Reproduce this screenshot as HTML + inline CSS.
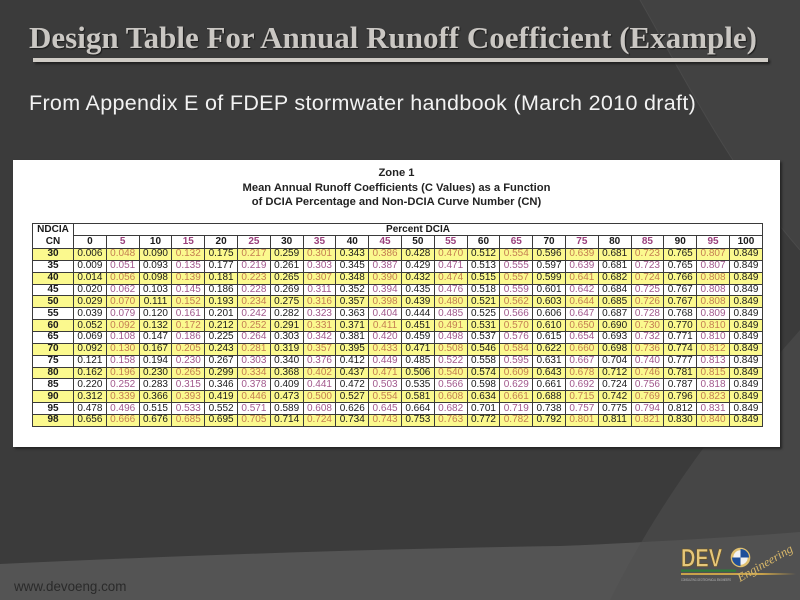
<!DOCTYPE html>
<html><head><meta charset="utf-8">
<style>
html,body{margin:0;padding:0;}
body{width:800px;height:600px;position:relative;overflow:hidden;background:#3b3b3b;font-family:"Liberation Sans",Arial,sans-serif;}
.abs{position:absolute;}
#title{left:29px;top:22px;font-family:"Liberation Serif","Times New Roman",serif;font-weight:bold;font-size:31px;line-height:31px;color:#cac7c3;white-space:nowrap;text-shadow:1px 1px 1px #1c1c1c;}
#bar{left:33px;top:58px;width:735px;height:4px;background:#d0ccc6;box-shadow:2px 2px 2px #202020;}
#sub{left:29px;top:93px;font-size:21.5px;line-height:21.5px;color:#f2f2f2;white-space:nowrap;letter-spacing:0.32px;}
#box{left:13px;top:160px;width:767px;height:287px;background:#fff;box-shadow:2px 2px 2px #262626;}
.cap{left:13px;width:767px;text-align:center;font-weight:bold;font-size:11.2px;line-height:11.2px;color:#222;white-space:nowrap;}
#tbl{position:absolute;left:32px;top:223px;width:731px;border-collapse:collapse;table-layout:fixed;font-size:10px;line-height:10px;}
#tbl td,#tbl th{border:1px solid #3a3a3a;padding:0;text-align:center;overflow:hidden;white-space:nowrap;color:#1a1a1a;}
#tbl th{font-weight:bold;}
#tbl tr.r1{height:12px;}
#tbl tr.h{height:13px;}
#tbl tr.h th:nth-child(2n){color:#9a407c;}
#tbl tr.d{height:11.87px;}
#tbl tr.d td:first-child{font-weight:bold;}
#tbl tr.d td:nth-child(2n+3){color:#a2588c;}
#tbl tr.y td{background:#fbf98e;}
#tbl tr.y td:nth-child(2n+3){color:#c47e52;}
#foot{left:14px;top:580px;font-size:13.4px;line-height:14px;color:#2a2a2a;white-space:nowrap;}
</style></head><body>
<svg class="abs" style="left:0;top:0" width="800" height="600">
  <rect width="800" height="600" fill="#3b3b3b"/>
  <path d="M640,0 C680,70 730,170 800,250 L800,0 Z" fill="#424242"/>
  <path d="M640,0 C680,70 730,170 800,250" stroke="#4a4a4a" stroke-width="1" fill="none"/>
  <path d="M800,330 C720,420 660,500 610,600 L800,600 Z" fill="#424242"/>
  <path d="M0,564 Q300,550 560,546 Q700,540 800,532 L800,600 L0,600 Z" fill="#545454"/>
  <path d="M800,330 C720,420 660,500 610,600 L800,600 Z" fill="#4c4c4c" opacity="0.35"/>
</svg>
<div id="title" class="abs">Design Table For Annual Runoff Coefficient (Example)</div>
<div id="bar" class="abs"></div>
<div id="sub" class="abs">From Appendix E of FDEP stormwater handbook (March 2010 draft)</div>
<div id="box" class="abs"></div>
<div class="abs cap" style="top:168px;">Zone 1</div>
<div class="abs cap" style="top:183px;">Mean Annual Runoff Coefficients (C Values) as a Function</div>
<div class="abs cap" style="top:197px;">of DCIA Percentage and Non-DCIA Curve Number (CN)</div>
<table id="tbl">
<colgroup><col style="width:41px"><col span="21"></colgroup>
<tr class="r1"><th rowspan="2" style="line-height:12px;">NDCIA<br>CN</th><th colspan="21">Percent DCIA</th></tr>
<tr class="h"><th>0</th><th>5</th><th>10</th><th>15</th><th>20</th><th>25</th><th>30</th><th>35</th><th>40</th><th>45</th><th>50</th><th>55</th><th>60</th><th>65</th><th>70</th><th>75</th><th>80</th><th>85</th><th>90</th><th>95</th><th>100</th></tr>
<tr class="d y"><td>30</td><td>0.006</td><td>0.048</td><td>0.090</td><td>0.132</td><td>0.175</td><td>0.217</td><td>0.259</td><td>0.301</td><td>0.343</td><td>0.386</td><td>0.428</td><td>0.470</td><td>0.512</td><td>0.554</td><td>0.596</td><td>0.639</td><td>0.681</td><td>0.723</td><td>0.765</td><td>0.807</td><td>0.849</td></tr>
<tr class="d"><td>35</td><td>0.009</td><td>0.051</td><td>0.093</td><td>0.135</td><td>0.177</td><td>0.219</td><td>0.261</td><td>0.303</td><td>0.345</td><td>0.387</td><td>0.429</td><td>0.471</td><td>0.513</td><td>0.555</td><td>0.597</td><td>0.639</td><td>0.681</td><td>0.723</td><td>0.765</td><td>0.807</td><td>0.849</td></tr>
<tr class="d y"><td>40</td><td>0.014</td><td>0.056</td><td>0.098</td><td>0.139</td><td>0.181</td><td>0.223</td><td>0.265</td><td>0.307</td><td>0.348</td><td>0.390</td><td>0.432</td><td>0.474</td><td>0.515</td><td>0.557</td><td>0.599</td><td>0.641</td><td>0.682</td><td>0.724</td><td>0.766</td><td>0.808</td><td>0.849</td></tr>
<tr class="d"><td>45</td><td>0.020</td><td>0.062</td><td>0.103</td><td>0.145</td><td>0.186</td><td>0.228</td><td>0.269</td><td>0.311</td><td>0.352</td><td>0.394</td><td>0.435</td><td>0.476</td><td>0.518</td><td>0.559</td><td>0.601</td><td>0.642</td><td>0.684</td><td>0.725</td><td>0.767</td><td>0.808</td><td>0.849</td></tr>
<tr class="d y"><td>50</td><td>0.029</td><td>0.070</td><td>0.111</td><td>0.152</td><td>0.193</td><td>0.234</td><td>0.275</td><td>0.316</td><td>0.357</td><td>0.398</td><td>0.439</td><td>0.480</td><td>0.521</td><td>0.562</td><td>0.603</td><td>0.644</td><td>0.685</td><td>0.726</td><td>0.767</td><td>0.808</td><td>0.849</td></tr>
<tr class="d"><td>55</td><td>0.039</td><td>0.079</td><td>0.120</td><td>0.161</td><td>0.201</td><td>0.242</td><td>0.282</td><td>0.323</td><td>0.363</td><td>0.404</td><td>0.444</td><td>0.485</td><td>0.525</td><td>0.566</td><td>0.606</td><td>0.647</td><td>0.687</td><td>0.728</td><td>0.768</td><td>0.809</td><td>0.849</td></tr>
<tr class="d y"><td>60</td><td>0.052</td><td>0.092</td><td>0.132</td><td>0.172</td><td>0.212</td><td>0.252</td><td>0.291</td><td>0.331</td><td>0.371</td><td>0.411</td><td>0.451</td><td>0.491</td><td>0.531</td><td>0.570</td><td>0.610</td><td>0.650</td><td>0.690</td><td>0.730</td><td>0.770</td><td>0.810</td><td>0.849</td></tr>
<tr class="d"><td>65</td><td>0.069</td><td>0.108</td><td>0.147</td><td>0.186</td><td>0.225</td><td>0.264</td><td>0.303</td><td>0.342</td><td>0.381</td><td>0.420</td><td>0.459</td><td>0.498</td><td>0.537</td><td>0.576</td><td>0.615</td><td>0.654</td><td>0.693</td><td>0.732</td><td>0.771</td><td>0.810</td><td>0.849</td></tr>
<tr class="d y"><td>70</td><td>0.092</td><td>0.130</td><td>0.167</td><td>0.205</td><td>0.243</td><td>0.281</td><td>0.319</td><td>0.357</td><td>0.395</td><td>0.433</td><td>0.471</td><td>0.508</td><td>0.546</td><td>0.584</td><td>0.622</td><td>0.660</td><td>0.698</td><td>0.736</td><td>0.774</td><td>0.812</td><td>0.849</td></tr>
<tr class="d"><td>75</td><td>0.121</td><td>0.158</td><td>0.194</td><td>0.230</td><td>0.267</td><td>0.303</td><td>0.340</td><td>0.376</td><td>0.412</td><td>0.449</td><td>0.485</td><td>0.522</td><td>0.558</td><td>0.595</td><td>0.631</td><td>0.667</td><td>0.704</td><td>0.740</td><td>0.777</td><td>0.813</td><td>0.849</td></tr>
<tr class="d y"><td>80</td><td>0.162</td><td>0.196</td><td>0.230</td><td>0.265</td><td>0.299</td><td>0.334</td><td>0.368</td><td>0.402</td><td>0.437</td><td>0.471</td><td>0.506</td><td>0.540</td><td>0.574</td><td>0.609</td><td>0.643</td><td>0.678</td><td>0.712</td><td>0.746</td><td>0.781</td><td>0.815</td><td>0.849</td></tr>
<tr class="d"><td>85</td><td>0.220</td><td>0.252</td><td>0.283</td><td>0.315</td><td>0.346</td><td>0.378</td><td>0.409</td><td>0.441</td><td>0.472</td><td>0.503</td><td>0.535</td><td>0.566</td><td>0.598</td><td>0.629</td><td>0.661</td><td>0.692</td><td>0.724</td><td>0.756</td><td>0.787</td><td>0.818</td><td>0.849</td></tr>
<tr class="d y"><td>90</td><td>0.312</td><td>0.339</td><td>0.366</td><td>0.393</td><td>0.419</td><td>0.446</td><td>0.473</td><td>0.500</td><td>0.527</td><td>0.554</td><td>0.581</td><td>0.608</td><td>0.634</td><td>0.661</td><td>0.688</td><td>0.715</td><td>0.742</td><td>0.769</td><td>0.796</td><td>0.823</td><td>0.849</td></tr>
<tr class="d"><td>95</td><td>0.478</td><td>0.496</td><td>0.515</td><td>0.533</td><td>0.552</td><td>0.571</td><td>0.589</td><td>0.608</td><td>0.626</td><td>0.645</td><td>0.664</td><td>0.682</td><td>0.701</td><td>0.719</td><td>0.738</td><td>0.757</td><td>0.775</td><td>0.794</td><td>0.812</td><td>0.831</td><td>0.849</td></tr>
<tr class="d y"><td>98</td><td>0.656</td><td>0.666</td><td>0.676</td><td>0.685</td><td>0.695</td><td>0.705</td><td>0.714</td><td>0.724</td><td>0.734</td><td>0.743</td><td>0.753</td><td>0.763</td><td>0.772</td><td>0.782</td><td>0.792</td><td>0.801</td><td>0.811</td><td>0.821</td><td>0.830</td><td>0.840</td><td>0.849</td></tr>
</table>
<div id="foot" class="abs">www.devoeng.com</div>
<svg class="abs" style="left:670px;top:530px" width="130" height="70">
  <defs><linearGradient id="gl" x1="0" x2="1"><stop offset="0" stop-color="#c9a24a"/><stop offset="0.7" stop-color="#c9a24a"/><stop offset="1" stop-color="#c9a24a" stop-opacity="0"/></linearGradient></defs>
  <text x="11" y="36.5" font-family="Liberation Sans, sans-serif" font-weight="bold" font-size="25" fill="#e6c77a" stroke="#6b5320" stroke-width="0.6" textLength="41" lengthAdjust="spacingAndGlyphs">DEV</text>
  <circle cx="70.5" cy="27.5" r="8.5" fill="#f2f2f2" stroke="#e0c070" stroke-width="2.6"/>
  <path d="M70.5,27.5 L70.5,19 A8.5,8.5 0 0 1 79,27.5 Z" fill="#1f4f9a"/>
  <path d="M70.5,27.5 L70.5,36 A8.5,8.5 0 0 1 62,27.5 Z" fill="#1f4f9a"/>
  <rect x="11" y="39.5" width="55" height="2.3" fill="#2f7a3a"/>
  <rect x="11" y="43" width="115" height="2" fill="url(#gl)"/>
  <text x="11" y="51" font-family="Liberation Sans, sans-serif" font-size="3.2" fill="#b8b8b8" textLength="50" lengthAdjust="spacingAndGlyphs">CONSULTING GEOTECHNICAL ENGINEERS</text>
  <text x="0" y="0" transform="translate(70,52) rotate(-30)" font-family="Liberation Serif, serif" font-style="italic" font-size="12" fill="#d9b86a" textLength="62" lengthAdjust="spacingAndGlyphs">Engineering</text>
</svg>
</body></html>
